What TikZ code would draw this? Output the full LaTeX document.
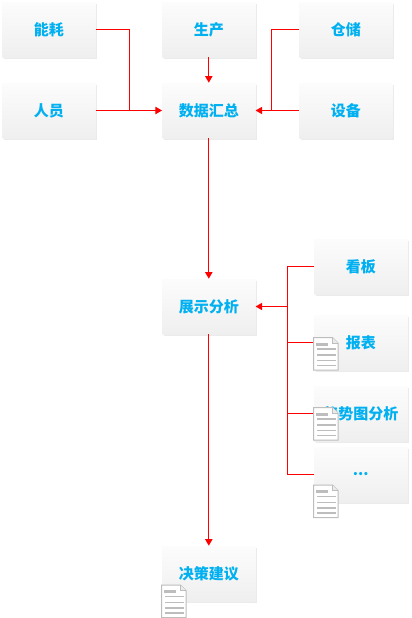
\documentclass[tikz,border=0pt]{standalone}
\usepackage{fontspec}
\setmainfont{Noto Sans CJK SC}
\usetikzlibrary{arrows.meta,shadows}
\definecolor{labelblue}{HTML}{00B0F0}
\definecolor{boxtop}{HTML}{FCFCFC}
\definecolor{boxbot}{HTML}{EFEFEF}
\definecolor{boxedge}{HTML}{EBEBEB}
\definecolor{docgray}{HTML}{BDBDBD}
\tikzset{
  x=0.75pt,y=-0.75pt,
  box/.style={minimum width=69.75pt,minimum height=41.25pt,inner sep=0pt,
    top color=boxtop,bottom color=boxbot,text=labelblue,
    font=\bfseries\fontsize{11.25pt}{13pt}\selectfont,
    drop shadow={shadow xshift=1.4pt,shadow yshift=-1.4pt,opacity=1,fill=boxedge}},
  link/.style={draw=red,line width=0.75pt},
  arr/.style={link,-{Triangle[length=5pt,width=5.5pt]}},
  docicon/.pic={
    \draw[docgray,fill=white,line width=0.75pt] (0,0) -- (19,0) -- (24.5,5.5) -- (24.5,32.5) -- (0,32.5) -- cycle;
    \draw[docgray,fill=boxedge,line width=0.5pt] (19,0) -- (19,5.5) -- (24.5,5.5);
    \fill[docgray] (2,5) rectangle (14,8);
    \foreach \yy in {10.5,16.5,22,27}{\fill[docgray] (3,\yy) rectangle (22,\yy+1.6);}
  }
}
\begin{document}
\begin{tikzpicture}
\useasboundingbox (0,0) rectangle (411,618);
\node[box] (nh) at (48.8,29.5) {能耗};
\node[box] (ry) at (48.8,110.5) {人员};
\node[box] (sc) at (208.8,29.5) {生产};
\node[box] (hz) at (208.8,110.5) {数据汇总};
\node[box] (cc) at (345.8,29.5) {仓储};
\node[box] (sb) at (345.8,110.5) {设备};
\node[box] (zs) at (208.8,306.5) {展示分析};
\node[box] (kb) at (360.8,266.5) {看板};
\node[box] (bb) at (360.8,342.5) {报表};
\node[box] (qs) at (360.8,413.5) {趋势图分析};
\node[box] (el) at (360.8,474.5) {...};
\node[box] (jc) at (208.8,573.5) {决策建议};
\coordinate (jl) at (129.5,110.5);
\coordinate (jr) at (271.5,110.5);
\coordinate (jz) at (287.5,306.5);
\draw[link] (nh.east) -| (jl);
\draw[link] (cc.west) -| (jr);
\draw[arr] (ry.east) -- (hz.west);
\draw[arr] (sb.west) -- (hz.east);
\draw[arr] (sc.south) -- (hz.north);
\draw[arr] (hz.south) -- (zs.north);
\draw[arr] (zs.south) -- (jc.north);
\draw[arr] (jz) -- (zs.east);
\draw[link] (kb.west) -| (jz);
\draw[link] (bb.west) -| (jz);
\draw[link] (qs.west) -| (jz);
\draw[link] (el.west) -| (jz);
\pic at (313.5,337.5) {docicon};
\pic at (313.5,407.5) {docicon};
\pic at (313.5,485) {docicon};
\pic at (161.5,585) {docicon};
\end{tikzpicture}
\end{document}
